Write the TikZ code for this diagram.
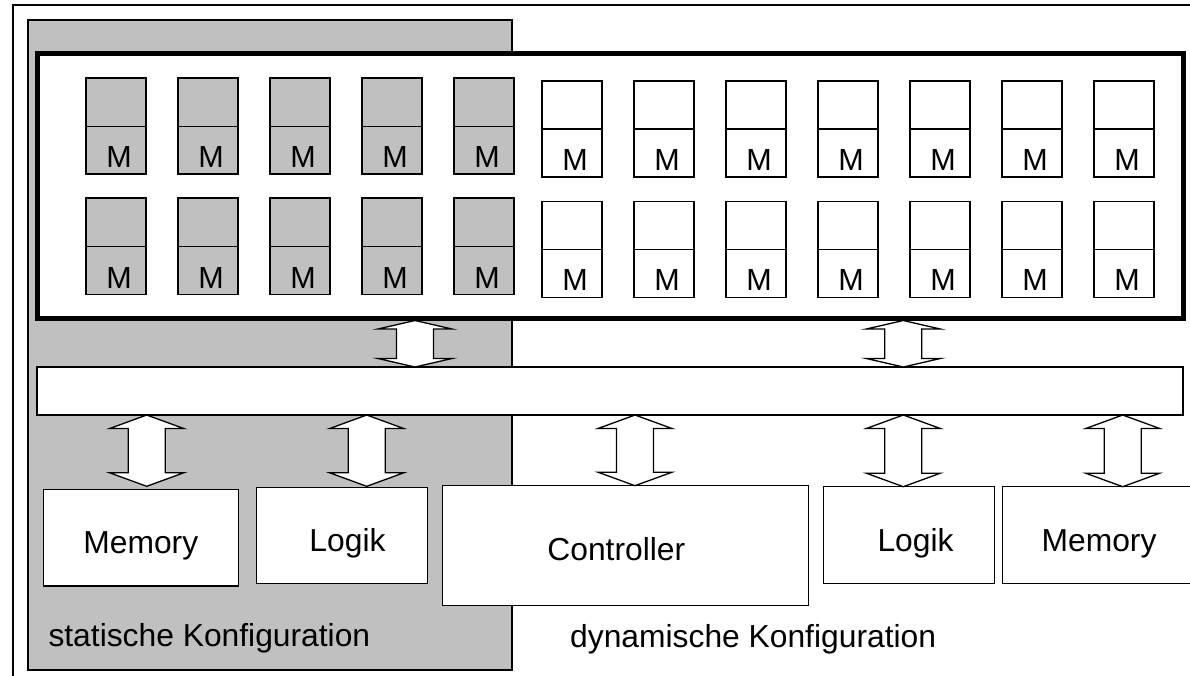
\documentclass[tikz,border=0pt]{standalone}
\usepackage{fontspec}
\setmainfont{Liberation Sans}
\usetikzlibrary{calc}
\definecolor{panelgray}{RGB}{192,192,192}

% double-headed block arrow between two points; #3 = head length
\newcommand\drawbiarrow[3]{%
  \draw[blockarrow] let \p1=#1, \p2=#2 in
    (\x1,\y1) -- (\x1+37pt,\y1-#3pt) -- (\x1+18.5pt,\y1-#3pt)
    -- (\x1+18.5pt,\y2+#3pt) -- (\x1+37pt,\y2+#3pt) -- (\x1,\y2)
    -- (\x1-37pt,\y2+#3pt) -- (\x1-18.5pt,\y2+#3pt)
    -- (\x1-18.5pt,\y1-#3pt) -- (\x1-37pt,\y1-#3pt) -- cycle;}

\begin{document}
\begin{tikzpicture}[x=1pt,y=-1pt,
  outlined/.style={draw, line width=1.3pt, inner sep=0pt, outer sep=0pt, anchor=north west},
  gcell/.style={outlined, fill=panelgray, minimum width=60pt},
  wcell/.style={outlined, fill=white, minimum width=60pt, line width=1.5pt},
  unit/.style={outlined, fill=white},
  lbl/.style={inner sep=0pt, anchor=base, font=\fontsize{31.8}{38}\selectfont},
  mlbl/.style={inner sep=0pt, anchor=base, font=\fontsize{30.5}{36}\selectfont},
  blockarrow/.style={draw, fill=white, line width=1.3pt, line join=miter},
]
\useasboundingbox (0,0) rectangle (1190,675);
\clip (0,0) rectangle (1190,675);
\fill[white] (0,0) rectangle (1190,675);

% outer frame (open towards right and bottom)
\draw[line width=1.3pt] (13,690) -- (13,5) -- (1200,5);

% static configuration panel
\node[outlined, fill=panelgray, minimum width=484pt, minimum height=650pt] (static) at (28,20) {};

% cell array
\node[outlined, fill=white, line width=5pt, minimum width=1145.5pt, minimum height=265pt] (array) at (37.5,53) {};

% statically configured cells
\foreach \i in {0,...,4} {
  \pgfmathsetmacro\cx{86+92*\i}
  \node[gcell, minimum height=48.5pt] (ga\i) at (\cx,78) {};
  \node[gcell, minimum height=47.5pt] (gm\i) at (\cx,126.5) {};
  \node[mlbl] at (\cx+33,167.5) {M};
  \node[gcell, minimum height=48.5pt] (gb\i) at (\cx,198) {};
  \node[gcell, minimum height=48pt] (gn\i) at (\cx,246.5) {};
  \node[mlbl] at (\cx+33,288) {M};
}
% dynamically configured cells
\foreach \i in {0,...,6} {
  \pgfmathsetmacro\cx{542+92*\i}
  \node[wcell, minimum height=48pt] (wa\i) at (\cx,81) {};
  \node[wcell, minimum height=48pt] (wm\i) at (\cx,129) {};
  \node[mlbl] at (\cx+33,170) {M};
  \node[wcell, minimum height=48pt] (wb\i) at (\cx,201.5) {};
  \node[wcell, minimum height=48pt] (wn\i) at (\cx,249.5) {};
  \node[mlbl] at (\cx+33,290.5) {M};
}

% bus
\node[unit, minimum width=1146pt, minimum height=48pt] (bus) at (37,367) {};

% lower units
\node[unit, minimum width=195pt, minimum height=96.7pt] (memL) at (43.3,489.3) {};
\node[unit, minimum width=170.6pt, minimum height=96pt] (logL) at (256.7,487.3) {};
\node[unit, minimum width=366pt, minimum height=120pt] (ctrl) at (442.3,485.7) {};
\node[unit, minimum width=171pt, minimum height=96.6pt] (logR) at (823.3,486.7) {};
\node[unit, minimum width=220pt, minimum height=96.6pt] (memR) at (1002.3,486.7) {};

\node[lbl] at (140.8,553) {Memory};
\node[lbl] at (347.5,551.7) {Logik};
\node[lbl] at (616.3,560.7) {Controller};
\node[lbl] at (915.5,551.7) {Logik};
\node[lbl] at (1099,551.7) {Memory};

\node[lbl, anchor=base west] at (48.3,646.7) {statische Konfiguration};
\node[lbl, anchor=base west] at (570,647.3) {dynamische Konfiguration};

% arrow axes
\coordinate (ax1) at (415,0);
\coordinate (ax2) at (903.3,0);
\coordinate (bx1) at (146.7,0);
\coordinate (bx2) at (366.7,0);
\coordinate (bx3) at (635,0);
\coordinate (bx4) at (903.3,0);
\coordinate (bx5) at (1122.7,0);

% array <-> bus
\drawbiarrow{([yshift=-2.5pt]array.south -| ax1)}{(bus.north -| ax1)}{8.5}
\drawbiarrow{([yshift=-2.5pt]array.south -| ax2)}{(bus.north -| ax2)}{8.5}
% bus <-> units
\drawbiarrow{(bus.south -| bx1)}{([yshift=3pt]memL.north -| bx1)}{13.5}
\drawbiarrow{(bus.south -| bx2)}{([yshift=1pt]logL.north -| bx2)}{13.5}
\drawbiarrow{(bus.south -| bx3)}{(ctrl.north -| bx3)}{13.5}
\drawbiarrow{(bus.south -| bx4)}{(logR.north -| bx4)}{13.5}
\drawbiarrow{(bus.south -| bx5)}{(memR.north -| bx5)}{13.5}
\end{tikzpicture}
\end{document}
